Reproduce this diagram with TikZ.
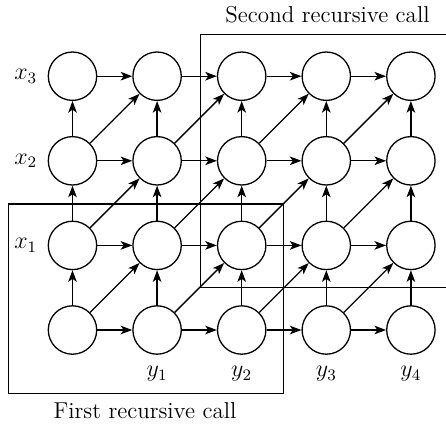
\documentclass[tikz,border=0pt]{standalone}
\usetikzlibrary{arrows.meta,positioning}
\begin{document}
\begin{tikzpicture}[x=0.5pt,y=-0.5pt,
  font=\fontsize{11.5}{13.5}\selectfont,
  cell/.style={circle,draw,line width=0.65pt,minimum size=24.2pt,inner sep=0pt},
  arr/.style={-{Stealth[length=5.8pt,width=4.3pt,inset=1.5pt]},line width=0.65pt},
  lab/.style={inner sep=0pt},
  frame/.style={line width=0.65pt}]
\useasboundingbox (0,0) rectangle (446,425);
% nodes
\foreach \i in {0,...,4}{
  \foreach \r in {0,...,3}{
    \node[cell] (n-\i-\r) at ({72.5+84.6*\i},{330-84.6*\r}) {};
  }
}
% horizontal arrows
\foreach \i [evaluate=\i as \j using int(\i+1)] in {0,...,3}{
  \foreach \r in {0,...,3}{
    \draw[arr] (n-\i-\r) -- (n-\j-\r);
  }
}
% vertical arrows
\foreach \i in {0,...,4}{
  \foreach \r [evaluate=\r as \s using int(\r+1)] in {0,...,2}{
    \draw[arr] (n-\i-\r) -- (n-\i-\s);
  }
}
% diagonal arrows
\foreach \i [evaluate=\i as \j using int(\i+1)] in {0,...,3}{
  \foreach \r [evaluate=\r as \s using int(\r+1)] in {0,...,2}{
    \draw[arr] (n-\i-\r) -- (n-\j-\s);
  }
}
% x labels
\node[lab,left=5pt of n-0-1] (x1) {$x_1$};
\node[lab,left=5pt of n-0-2] (x2) {$x_2$};
\node[lab,left=5pt of n-0-3] (x3) {$x_3$};
% y labels
\node[lab,below=5.5pt of n-1-0] (y1) {$y_1$};
\node[lab,below=5.5pt of n-2-0] (y2) {$y_2$};
\node[lab,below=5.5pt of n-3-0] (y3) {$y_3$};
\node[lab,below=5.5pt of n-4-0] (y4) {$y_4$};
% frames
\draw[frame] (8.3,204) rectangle (283.3,393.3);
\draw[frame] (446,34.3) -- (200.7,34.3) -- (200.7,287.7) -- (446,287.7);
% titles
\node (t2) at (327.5,15) {Second recursive call};
\node (t1) at (145,411) {First recursive call};
\end{tikzpicture}
\end{document}
